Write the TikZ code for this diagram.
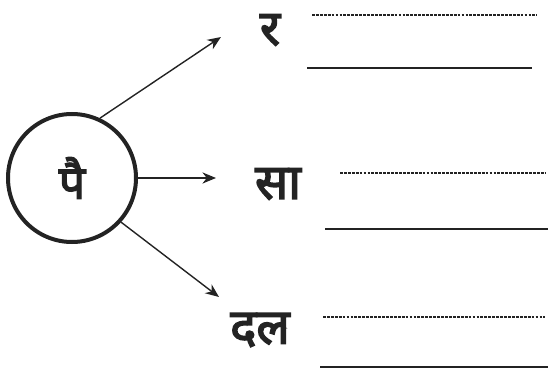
\documentclass[tikz,border=0pt]{standalone}
\usepackage{fontspec}
\usepackage{tikz}
\usetikzlibrary{arrows.meta}
\newfontfamily\devfont[Script=Devanagari, FakeBold=3]{Noto Sans}
\definecolor{inkgray}{RGB}{35,35,35}

\tikzset{
  ring/.style={circle, draw=inkgray, line width=1mm, minimum size=32mm, inner sep=0pt},
  branch/.style={inkgray, line width=0.35mm, -{Stealth[length=3.4mm, width=2.8mm]}},
  wordbox/.style={text=inkgray, font=\devfont\fontsize{35}{35}\selectfont, inner sep=0pt},
  dotline/.style={inkgray, line width=0.4mm, dash pattern=on 2pt off 0.8pt},
  blankline/.style={inkgray, line width=0.4mm}
}

\begin{document}
\begin{tikzpicture}[x=0.25mm, y=-0.25mm]

% Background
\useasboundingbox (0,0) rectangle (548,375);

% Centre circle
\node[ring, font=\devfont\fontsize{33}{33}\selectfont, text=inkgray] (pai) at (72,178) {पै};

% Words
\node[wordbox] (ra) at (270,30) {र};
\node[wordbox] (sa) at (278,184) {सा};
\node[wordbox] (dal) at (260,330) {दल};

% Arrow tips
\coordinate (tipra) at (221,37);
\coordinate (tipsa) at (216,178);
\coordinate (tipdal) at (219,297);

% Arrows
\draw[branch] (pai.65) -- (tipra);
\draw[branch] (pai.east) -- (tipsa);
\draw[branch] (pai.-42) -- (tipdal);

% Answer lines (dotted, then solid)
\foreach \xa/\ya/\xb in {312/15/537, 340/173/545, 323/317/545} {
    \draw[dotline] (\xa,\ya) -- (\xb,\ya);
}
\foreach \xa/\ya/\xb in {307/68/532, 325/229/548, 320/367/548} {
    \draw[blankline] (\xa,\ya) -- (\xb,\ya);
}

\end{tikzpicture}
\end{document}
